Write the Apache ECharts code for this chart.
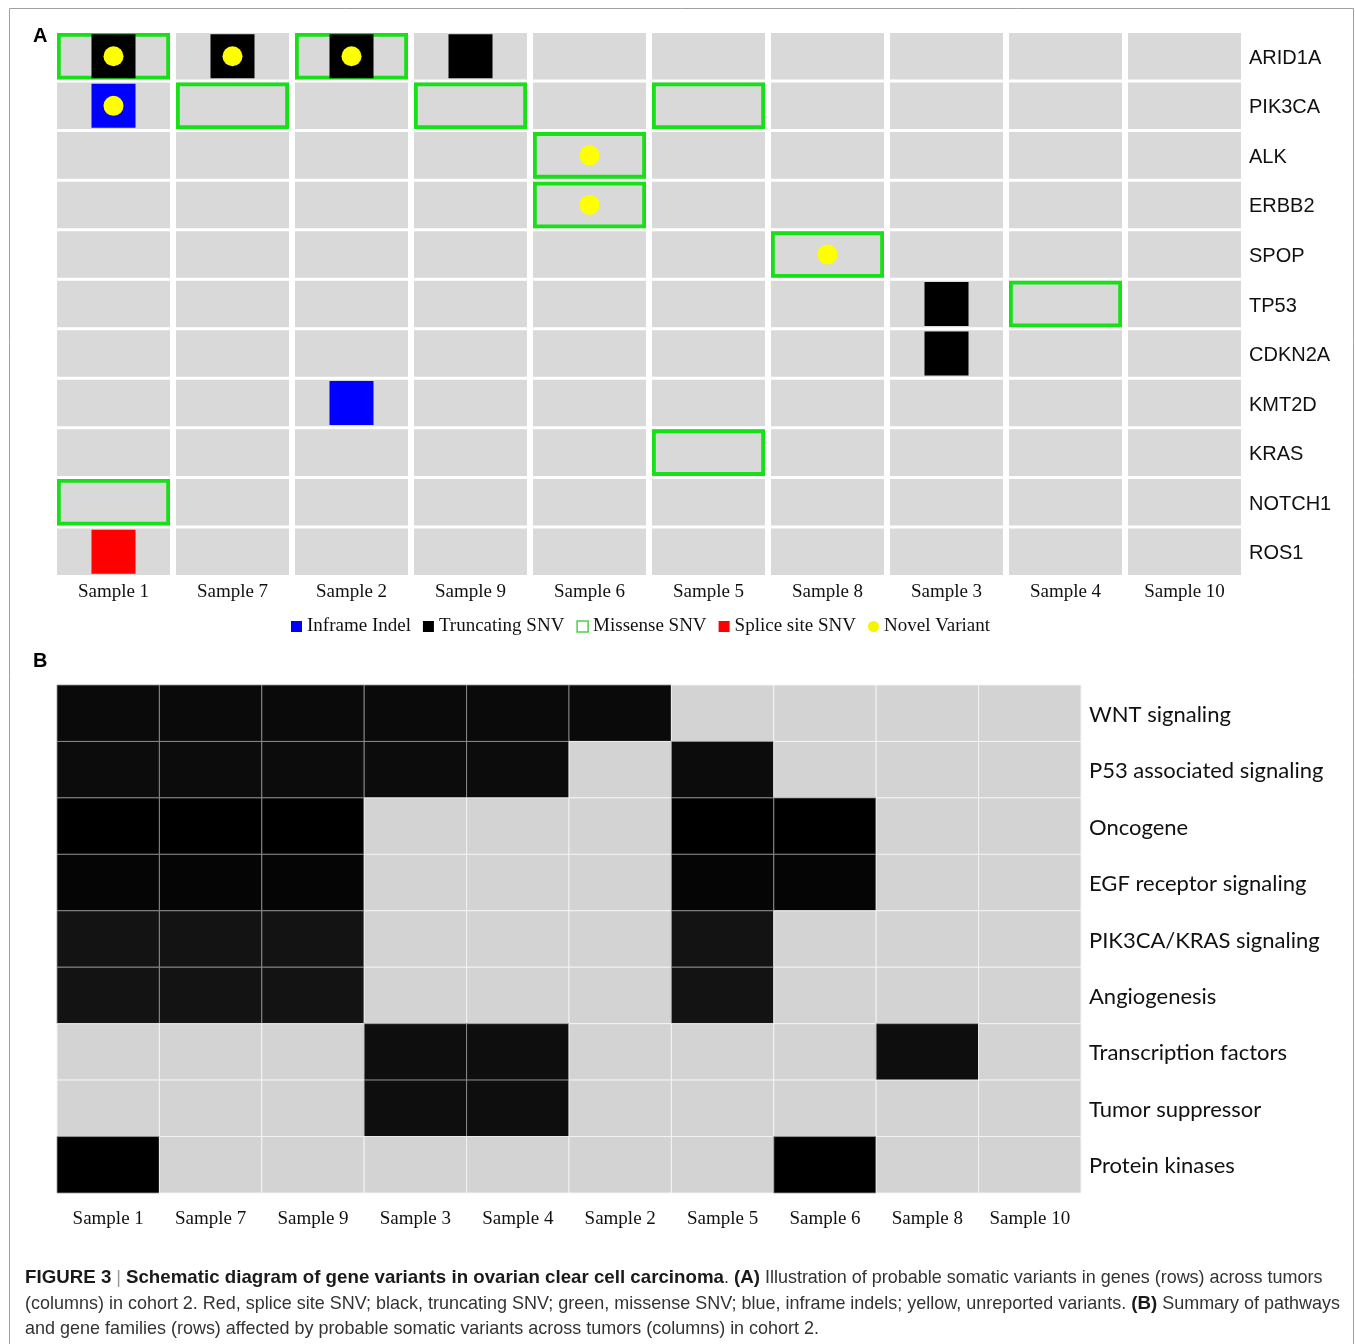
<!DOCTYPE html>
<html>
<head>
<meta charset="utf-8">
<script src="https://cdn.jsdelivr.net/npm/echarts@6/dist/echarts.min.js"></script>
<style>
  html, body { margin: 0; padding: 0; background: #fff; }
  #chart { width: 1355px; height: 1344px; }
</style>
</head>
<body>
<div id="chart"></div>
<script>
// ---- Panel A: gene variants per tumor ----
const samplesA = ['Sample 1', 'Sample 7', 'Sample 2', 'Sample 9', 'Sample 6',
                  'Sample 5', 'Sample 8', 'Sample 3', 'Sample 4', 'Sample 10'];
const genes = ['ARID1A', 'PIK3CA', 'ALK', 'ERBB2', 'SPOP', 'TP53',
               'CDKN2A', 'KMT2D', 'KRAS', 'NOTCH1', 'ROS1'];

const inframeIndel = [['Sample 1', 'PIK3CA'], ['Sample 2', 'KMT2D']];
const truncatingSNV = [['Sample 1', 'ARID1A'], ['Sample 7', 'ARID1A'], ['Sample 2', 'ARID1A'],
                       ['Sample 9', 'ARID1A'], ['Sample 3', 'TP53'], ['Sample 3', 'CDKN2A']];
const missenseSNV = [['Sample 1', 'ARID1A'], ['Sample 2', 'ARID1A'], ['Sample 7', 'PIK3CA'],
                     ['Sample 9', 'PIK3CA'], ['Sample 5', 'PIK3CA'], ['Sample 6', 'ALK'],
                     ['Sample 6', 'ERBB2'], ['Sample 8', 'SPOP'], ['Sample 4', 'TP53'],
                     ['Sample 5', 'KRAS'], ['Sample 1', 'NOTCH1']];
const spliceSiteSNV = [['Sample 1', 'ROS1']];
const novelVariant = [['Sample 1', 'ARID1A'], ['Sample 7', 'ARID1A'], ['Sample 2', 'ARID1A'],
                      ['Sample 1', 'PIK3CA'], ['Sample 6', 'ALK'], ['Sample 6', 'ERBB2'],
                      ['Sample 8', 'SPOP']];

// ---- Panel B: pathways / gene families per tumor ----
const samplesB = ['Sample 1', 'Sample 7', 'Sample 9', 'Sample 3', 'Sample 4',
                  'Sample 2', 'Sample 5', 'Sample 6', 'Sample 8', 'Sample 10'];
const pathways = ['WNT signaling', 'P53 associated signaling', 'Oncogene',
                  'EGF receptor signaling', 'PIK3CA/KRAS signaling', 'Angiogenesis',
                  'Transcription factors', 'Tumor suppressor', 'Protein kinases'];
const pathwayHits = [
  [1, 1, 1, 1, 1, 1, 0, 0, 0, 0],
  [1, 1, 1, 1, 1, 0, 1, 0, 0, 0],
  [1, 1, 1, 0, 0, 0, 1, 1, 0, 0],
  [1, 1, 1, 0, 0, 0, 1, 1, 0, 0],
  [1, 1, 1, 0, 0, 0, 1, 0, 0, 0],
  [1, 1, 1, 0, 0, 0, 1, 0, 0, 0],
  [0, 0, 0, 1, 1, 0, 0, 0, 1, 0],
  [0, 0, 0, 1, 1, 0, 0, 0, 0, 0],
  [1, 0, 0, 0, 0, 0, 0, 1, 0, 0]
];

// ---- caption ----
const captionLines = [
  [['b', 'FIGURE 3'], ['bar', ' | '], ['b', 'Schematic diagram of gene variants in ovarian clear cell carcinoma'],
   ['n', '. '], ['b', '(A)'], ['n', ' Illustration of probable somatic variants in genes (rows) across tumors']],
  [['n', '(columns) in cohort 2. Red, splice site SNV; black, truncating SNV; green, missense SNV; blue, inframe indels; yellow, unreported variants. '],
   ['b', '(B)'], ['n', ' Summary of pathways']],
  [['n', 'and gene families (rows) affected by probable somatic variants across tumors (columns) in cohort 2.']]
];

// ---- styling ----
const GREEN = '#17e017';
const CELL_A = '#d9d9d9';
const CELL_B = '#d3d3d3';
const hitShade = ['#0a0a0a', '#0c0c0c', '#000000', '#050505', '#131313',
                  '#131313', '#0e0e0e', '#0e0e0e', '#000000'];
const serif = 'Liberation Serif';
const sans = 'Liberation Sans';
const CAP_SIZE = 19;
const CAP_X = 25;
const CAP_Y = [1278, 1304, 1329];
const CAP_NORMAL_WIDTH = 1314;  // condensed regular face: second line spans this width
const CAP_BOLD_WIDTH = 598;     // condensed bold face: title phrase spans this width

const allCellsA = [];
samplesA.forEach(s => genes.forEach(g => allCellsA.push([s, g])));

const cellsB = [];
pathways.forEach((p, r) => samplesB.forEach((s, c) => cellsB.push([c, r, pathwayHits[r][c]])));

// The caption is set in a condensed face: squeeze Liberation Sans horizontally.
const measureCtx = document.createElement('canvas').getContext('2d');
function fontFor(kind) {
  return (kind === 'b' ? 'bold ' : '') + CAP_SIZE + 'px "' + sans + '"';
}
function rawWidth(kind, text) {
  measureCtx.font = fontFor(kind);
  return measureCtx.measureText(text).width;
}
const normalScale = CAP_NORMAL_WIDTH /
  (captionLines[1].reduce((w, [k, t]) => w + rawWidth(k, t) * (k === 'b' ? 1 : 1), 0));
const boldScale = CAP_BOLD_WIDTH / rawWidth('b', captionLines[0][2][1]);
const capFill = { b: '#1a1a1a', n: '#333333', bar: '#9a9a9a' };

const captionGraphics = [];
captionLines.forEach((parts, i) => {
  let cursor = CAP_X;
  parts.forEach(([k, t]) => {
    const s = k === 'b' ? boldScale : normalScale;
    captionGraphics.push({
      type: 'text', silent: true, x: cursor, y: CAP_Y[i], scaleX: s,
      style: { x: 0, y: 0, verticalAlign: 'middle', text: t,
               fontFamily: sans, fontSize: CAP_SIZE, fontWeight: k === 'b' ? 'bold' : 'normal',
               fill: capFill[k] }
    });
    cursor += rawWidth(k, t) * s;
  });
});

function renderBgA(params, api) {
  const c = api.coord([api.value(0), api.value(1)]);
  const sz = api.size([1, 1]);
  const gx = 6, gy = 3;
  return {
    type: 'rect',
    shape: { x: c[0] - sz[0] / 2 + gx / 2, y: c[1] - sz[1] / 2 + gy / 2,
             width: sz[0] - gx, height: sz[1] - gy },
    style: { fill: CELL_A }
  };
}

function renderMissense(params, api) {
  const c = api.coord([api.value(0), api.value(1)]);
  const sz = api.size([1, 1]);
  const gx = 6, gy = 3, lw = 3.8;
  return {
    type: 'rect',
    shape: { x: c[0] - sz[0] / 2 + gx / 2 + lw / 2, y: c[1] - sz[1] / 2 + gy / 2 + lw / 2,
             width: sz[0] - gx - lw, height: sz[1] - gy - lw },
    style: { fill: 'none', stroke: GREEN, lineWidth: lw }
  };
}

function renderB(params, api) {
  const col = api.value(0), row = api.value(1), hit = api.value(2);
  const c = api.coord([col, row]);
  const sz = api.size([1, 1]);
  return {
    type: 'rect',
    shape: { x: c[0] - sz[0] / 2, y: c[1] - sz[1] / 2, width: sz[0], height: sz[1] },
    style: { fill: hit ? hitShade[row] : CELL_B,
             stroke: hit ? 'rgba(150,150,150,0.8)' : 'rgba(245,245,245,0.9)', lineWidth: 1 }
  };
}

const chart = echarts.init(document.getElementById('chart'), null, { renderer: 'canvas' });

chart.setOption({
  backgroundColor: '#ffffff',
  animation: false,
  grid: [
    { left: 54, top: 31.5, width: 1190, height: 545 },
    { left: 57, top: 685, width: 1024, height: 508 }
  ],
  xAxis: [
    { gridIndex: 0, type: 'category', data: samplesA, position: 'bottom',
      axisLine: { show: false }, axisTick: { show: false }, splitLine: { show: false },
      axisLabel: { fontFamily: serif, fontSize: 19, color: '#111', margin: 6, interval: 0 } },
    { gridIndex: 1, type: 'category', data: samplesB, position: 'bottom',
      axisLine: { show: false }, axisTick: { show: false }, splitLine: { show: false },
      axisLabel: { fontFamily: serif, fontSize: 19, color: '#111', margin: 17, interval: 0 } }
  ],
  yAxis: [
    { gridIndex: 0, type: 'category', data: genes, inverse: true, position: 'right',
      axisLine: { show: false }, axisTick: { show: false }, splitLine: { show: false },
      axisLabel: { margin: 5, interval: 0, formatter: v => '{g|' + v + '}',
                   rich: { g: { fontFamily: sans, fontSize: 20, color: '#111', padding: [4, 0, 0, 0] } } } },
    { gridIndex: 1, type: 'category', data: pathways, inverse: true, position: 'right',
      axisLine: { show: false }, axisTick: { show: false }, splitLine: { show: false },
      axisLabel: { margin: 8, interval: 0, formatter: v => '{p|' + v + '}',
                   rich: { p: { fontFamily: 'Lato', fontSize: 22, color: '#111', padding: [3, 0, 0, 0] } } } }
  ],
  legend: {
    left: 286, top: 612, itemWidth: 11, itemHeight: 11, itemGap: 12,
    selectedMode: false,
    textStyle: { fontFamily: serif, fontSize: 19, color: '#111' },
    data: [
      { name: 'Inframe Indel', icon: 'rect', itemStyle: { color: '#0000ff' } },
      { name: 'Truncating SNV', icon: 'rect', itemStyle: { color: '#000000' } },
      { name: 'Missense SNV', icon: 'rect',
        itemStyle: { color: '#ffffff', borderColor: '#4ccf4c', borderWidth: 1.5 } },
      { name: 'Splice site SNV', icon: 'rect', itemStyle: { color: '#ff0000' } },
      { name: 'Novel Variant', icon: 'circle', itemStyle: { color: '#f5f500' } }
    ]
  },
  series: [
    { type: 'custom', xAxisIndex: 0, yAxisIndex: 0, data: allCellsA,
      renderItem: renderBgA, z: 1, silent: true },
    { name: 'Missense SNV', type: 'custom', xAxisIndex: 0, yAxisIndex: 0, data: missenseSNV,
      renderItem: renderMissense, z: 2, itemStyle: { color: GREEN } },
    { name: 'Truncating SNV', type: 'scatter', xAxisIndex: 0, yAxisIndex: 0, data: truncatingSNV,
      symbol: 'rect', symbolSize: 44, itemStyle: { color: '#000000', opacity: 1 }, z: 3 },
    { name: 'Inframe Indel', type: 'scatter', xAxisIndex: 0, yAxisIndex: 0, data: inframeIndel,
      symbol: 'rect', symbolSize: 44, itemStyle: { color: '#0000ff', opacity: 1 }, z: 3 },
    { name: 'Splice site SNV', type: 'scatter', xAxisIndex: 0, yAxisIndex: 0, data: spliceSiteSNV,
      symbol: 'rect', symbolSize: 44, itemStyle: { color: '#ff0000', opacity: 1 }, z: 3 },
    { name: 'Novel Variant', type: 'scatter', xAxisIndex: 0, yAxisIndex: 0, data: novelVariant,
      symbol: 'circle', symbolSize: 20, itemStyle: { color: '#ffff00', opacity: 1 }, z: 4 },
    { type: 'custom', xAxisIndex: 1, yAxisIndex: 1, data: cellsB,
      renderItem: renderB, z: 1, silent: true }
  ],
  graphic: [
    { type: 'rect', silent: true, z: -1,
      shape: { x: 9.5, y: 8.5, width: 1344, height: 1400 },
      style: { fill: 'none', stroke: '#a0a0a0', lineWidth: 1 } },
    { type: 'text', silent: true,
      style: { x: 33, y: 36, text: 'A', fontFamily: sans, fontWeight: 'bold', fontSize: 20,
               fill: '#000', verticalAlign: 'middle' } },
    { type: 'text', silent: true,
      style: { x: 33, y: 661, text: 'B', fontFamily: sans, fontWeight: 'bold', fontSize: 20,
               fill: '#000', verticalAlign: 'middle' } }
  ].concat(captionGraphics)
});
</script>
</body>
</html>
